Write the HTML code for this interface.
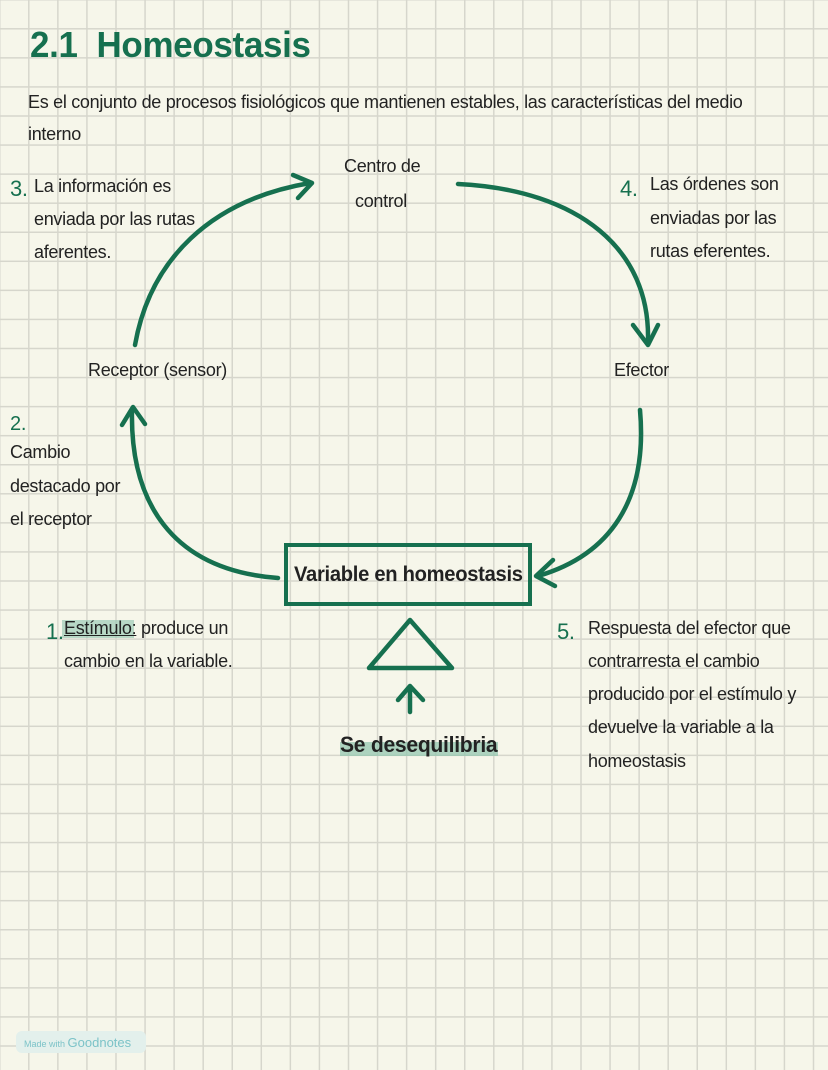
<!DOCTYPE html>
<html><head><meta charset="utf-8"><style>
html,body{margin:0;padding:0}
body{width:828px;height:1070px;position:relative;overflow:hidden;background-color:#f6f6ea;
background-image:linear-gradient(to right,#d6d6cc 1.5px,transparent 1.5px),linear-gradient(to bottom,#d6d6cc 1.5px,transparent 1.5px);
background-size:29.07px 29.07px;background-position:-1px -1px;font-family:"Liberation Sans",sans-serif;color:#222}
.t{position:absolute;font-size:18px;line-height:33px;letter-spacing:-0.3px;transform:scaleX(1.0);transform-origin:left top;white-space:nowrap}
.g{color:#16704f}
</style></head><body>
<div class="t g" style="left:30px;top:22px;font-size:36px;font-weight:bold;line-height:46px;transform:scaleX(0.97)">2.1&nbsp; Homeostasis</div>
<div class="t" style="left:28px;top:86px">Es el conjunto de procesos fisiológicos que mantienen estables, las características del medio</div>
<div class="t" style="left:28px;top:118px">interno</div>
<div class="t" style="left:344px;top:150px">Centro de</div>
<div class="t" style="left:355px;top:185px">control</div>
<div class="t" style="left:10px;top:172px"><span class="g" style="font-size:22px">3.</span></div>
<div class="t" style="left:34px;top:170px">La información es</div>
<div class="t" style="left:34px;top:203px">enviada por las rutas</div>
<div class="t" style="left:34px;top:236px">aferentes.</div>
<div class="t g" style="left:620px;top:172px;font-size:22px">4.</div>
<div class="t" style="left:650px;top:168px">Las órdenes son</div>
<div class="t" style="left:650px;top:202px">enviadas por las</div>
<div class="t" style="left:650px;top:235px">rutas eferentes.</div>
<div class="t" style="left:88px;top:354px">Receptor (sensor)</div>
<div class="t" style="left:614px;top:354px">Efector</div>
<div class="t g" style="left:10px;top:408px;font-size:20px">2.</div>
<div class="t" style="left:10px;top:436px">Cambio</div>
<div class="t" style="left:10px;top:470px">destacado por</div>
<div class="t" style="left:10px;top:503px">el receptor</div>
<div style="position:absolute;left:284px;top:543px;width:248px;height:63px;border:4px solid #16704f;box-sizing:border-box"></div>
<div class="t" style="left:294px;top:558px;font-size:21px;font-weight:bold;transform:scaleX(0.96)">Variable en homeostasis</div>
<div class="t g" style="left:46px;top:615px;font-size:22px">1.</div>
<div style="position:absolute;left:62px;top:620px;width:72px;height:18px;background:#8fc4ad;opacity:.6"></div>
<div class="t" style="left:64px;top:612px"><u>Estímulo:</u> produce un</div>
<div class="t" style="left:64px;top:645px">cambio en la variable.</div>
<div class="t g" style="left:557px;top:615px;font-size:22px">5.</div>
<div class="t" style="left:588px;top:612px">Respuesta del efector que</div>
<div class="t" style="left:588px;top:645px">contrarresta el cambio</div>
<div class="t" style="left:588px;top:678px">producido por el estímulo y</div>
<div class="t" style="left:588px;top:711px">devuelve la variable a la</div>
<div class="t" style="left:588px;top:745px">homeostasis</div>
<div style="position:absolute;left:340px;top:742px;width:158px;height:14px;background:#8fc4ad;opacity:.7"></div>
<div class="t" style="left:340px;top:728px;font-size:22px;font-weight:bold;transform:scaleX(0.96)">Se desequilibria</div>
<div style="position:absolute;left:16px;top:1031px;width:130px;height:22px;border-radius:6px;background:#e3f0ec"></div>
<div style="position:absolute;left:24px;top:1035px;font-size:9px;color:#7cc3c8">Made with <span style="font-size:13px">Goodnotes</span></div>
<svg width="828" height="1070" style="position:absolute;left:0;top:0" fill="none" stroke="#16704f" stroke-width="4.5" stroke-linecap="round" stroke-linejoin="round">
<path d="M135 345 C150 260 210 200 310 183"/>
<path d="M293 175 L312 183 L298 198"/>
<path d="M458 184 C580 190 650 250 648 340"/>
<path d="M633 325 L648 345 L658 325"/>
<path d="M640 410 C648 500 610 555 538 576"/>
<path d="M553 560 L536 576 L555 586"/>
<path d="M278 578 C170 570 130 500 132 410"/>
<path d="M122 425 L133 407 L145 424"/>
<path d="M410 620 L452 668 L369 668 Z"/>
<path d="M410 712 L410 686 M398 700 L410 686 L423 700"/>
</svg>
</body></html>
